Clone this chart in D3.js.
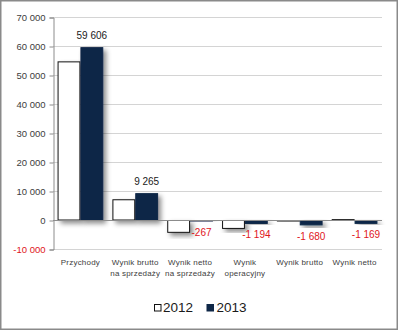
<!DOCTYPE html>
<html>
<head>
<meta charset="utf-8">
<script src="https://cdn.jsdelivr.net/npm/d3@7/dist/d3.min.js"></script>
<style>
  html, body { margin: 0; padding: 0; background: #fff; }
  svg { display: block; font-family: "Liberation Sans", Arial, sans-serif; }
</style>
</head>
<body>
<svg id="chart" width="398" height="330"></svg>
<script>
// Categories (multi-line labels split by "\n")
const categories = [
  "Przychody",
  "Wynik brutto\nna sprzedaży",
  "Wynik netto\nna sprzedaży",
  "Wynik\noperacyjny",
  "Wynik brutto",
  "Wynik netto"
];
const years = ["2012", "2013"];
const values2012 = [54700, 7150, -4250, -2900, -250, 300];
const values2013 = [59606, 9265, -267, -1194, -1680, -1169];
const yTicks = [-10000, 0, 10000, 20000, 30000, 40000, 50000, 60000, 70000];

const colors = { "2012": "#ffffff", "2013": "#0f2747" };
const fmt = v => d3.format(",")(v).replace(/,/g, " ").replace("−", "-");

const svg = d3.select("#chart");
const W = 398, H = 330;

// outer frame
svg.append("rect").attr("x", 0.75).attr("y", 0.75).attr("width", W - 1.5).attr("height", H - 1.5)
  .attr("fill", "#fff").attr("stroke", "#8a8a8a").attr("stroke-width", 1.5);

const defs = svg.append("defs");
const f = defs.append("filter").attr("id", "shadow")
  .attr("x", "-30%").attr("y", "-30%").attr("width", "180%").attr("height", "180%");
f.append("feDropShadow").attr("dx", 3).attr("dy", 3).attr("stdDeviation", 2.5)
  .attr("flood-color", "#000").attr("flood-opacity", 0.45);

const plotLeft = 53, plotRight = 382, plotTop = 17, plotBottom = 249;
const y = d3.scaleLinear().domain([-10000, 70000]).range([plotBottom, plotTop]);
const x0 = d3.scaleBand().domain(categories).range([plotLeft, plotRight]);
const x1 = d3.scaleBand().domain(years).range([0, x0.bandwidth()]).paddingOuter(0.2);

// gridlines
svg.append("g").selectAll("line").data(yTicks.filter(t => t !== 0)).join("line")
  .attr("x1", plotLeft).attr("x2", plotRight)
  .attr("y1", d => y(d) + 0.5).attr("y2", d => y(d) + 0.5)
  .attr("stroke", "#d4d4d4").attr("stroke-width", 1);

// y axis
const yAxis = d3.axisLeft(y).tickValues(yTicks).tickSize(4).tickPadding(4).tickFormat(fmt);
const gy = svg.append("g").attr("transform", `translate(${plotLeft + 0.5},0.5)`).call(yAxis);
gy.select(".domain").attr("stroke", "#8c8c8c");
gy.selectAll(".tick line").attr("stroke", "#8c8c8c");
gy.selectAll(".tick text")
  .attr("font-size", 9.5)
  .attr("font-family", "Liberation Sans, Arial, sans-serif")
  .attr("fill", d => d < 0 ? "#e0151b" : "#404040");

// bars
const rows = categories.map((c, i) => ({ cat: c, vals: [
  { year: "2012", v: values2012[i] },
  { year: "2013", v: values2013[i] }
]}));

const groups = svg.append("g").selectAll("g").data(rows).join("g")
  .attr("transform", d => `translate(${x0(d.cat)},0)`);

groups.selectAll("rect").data(d => d.vals).join("rect")
  .attr("x", d => x1(d.year) + 0.5)
  .attr("width", x1.bandwidth() - 1)
  .attr("y", d => Math.min(y(d.v), y(0)) + 0.5)
  .attr("height", d => Math.max(Math.abs(y(d.v) - y(0)) - 0.5, 0.5))
  .attr("fill", d => colors[d.year])
  .attr("stroke", d => d.year === "2012" ? "#111" : colors["2013"])
  .attr("stroke-width", 1)
  .attr("filter", "url(#shadow)");

// zero axis line
svg.append("line").attr("x1", plotLeft).attr("x2", plotRight)
  .attr("y1", y(0) + 0.5).attr("y2", y(0) + 0.5)
  .attr("stroke", "#8c8c8c").attr("stroke-width", 1);

// 2013 value labels
svg.append("g").selectAll("text").data(rows).join("text")
  .attr("x", d => x0(d.cat) + x1("2013") + x1.bandwidth() / 2)
  .attr("y", d => {
    const v = d.vals[1].v;
    return v >= 0 ? y(v) - 8 : y(v) + 15;
  })
  .attr("text-anchor", "middle")
  .attr("font-size", 10)
  .attr("fill", d => d.vals[1].v < 0 ? "#e0151b" : "#1a1a1a")
  .text(d => fmt(d.vals[1].v));

// category labels
const cl = svg.append("g").selectAll("text").data(categories).join("text")
  .attr("x", d => x0(d) + x0.bandwidth() / 2)
  .attr("y", 264.5)
  .attr("text-anchor", "middle")
  .attr("font-size", 8)
  .attr("letter-spacing", 0.2)
  .attr("fill", "#404040");
cl.each(function(d) {
  const lines = d.split("\n");
  const t = d3.select(this);
  lines.forEach((ln, i) => {
    t.append("tspan").attr("x", x0(d) + x0.bandwidth() / 2)
      .attr("dy", i === 0 ? 0 : 11.5).text(ln);
  });
});

// legend
const legend = svg.append("g");
const legendItems = [
  { year: "2012", sx: 154.5, tx: 163 },
  { year: "2013", sx: 207, tx: 216.5 }
];
legendItems.forEach(it => {
  legend.append("rect").attr("x", it.sx).attr("y", 304.5).attr("width", 6.5).attr("height", 6.5)
    .attr("fill", colors[it.year]).attr("stroke", it.year === "2012" ? "#111" : colors["2013"]);
  legend.append("text").attr("x", it.tx).attr("y", 311.5)
    .attr("font-size", 13.5).attr("fill", "#1a1a1a").text(it.year);
});
</script>
</body>
</html>
